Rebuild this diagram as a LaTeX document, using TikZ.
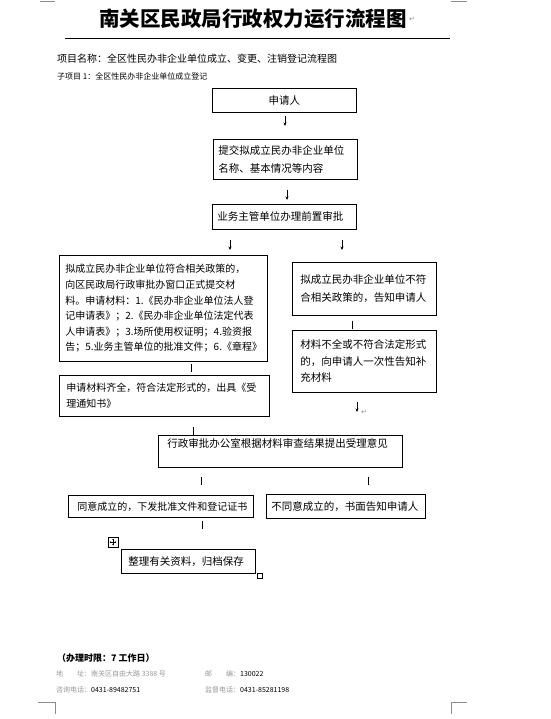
\documentclass[tikz,border=0pt]{standalone}
\usepackage{fontspec}
\setmainfont{Noto Sans CJK SC}
\newfontfamily\symfont{DejaVu Sans}
\usepackage{tikz}
\usetikzlibrary{arrows.meta, positioning}

\begin{document}
\begin{tikzpicture}[
    x=1pt, y=-1pt,
    >={Stealth[length=3.5pt,width=3pt]},
    every node/.style={font=\fontsize{10.5}{18}\selectfont, inner sep=0pt},
    box/.style={draw, line width=0.8pt, anchor=north west, align=left, inner xsep=6pt},
    note/.style={anchor=west, font=\fontsize{10}{12}\selectfont},
    addr/.style={anchor=west, text=black!40, font=\fontsize{7}{9}\selectfont},
    num/.style={text=black},
    corner/.style={draw=black!45, line width=0.6pt},
    parmark/.style={text=black!45, font=\symfont\fontsize{7}{8}\selectfont}
]

\useasboundingbox[fill=white] (0,0) rectangle (550,719);

% Page corners
\draw[corner] (40,1) -- (55,1);
\draw[corner] (451,1) -- (467,1);
\draw[corner] (38,702) -- (55,702) -- (55,714);
\draw[corner] (467,702) -- (451,702) -- (451,714);

% Title
\node[font=\fontsize{20.5}{24}\selectfont\bfseries] (title) at (253,19) {南关区民政局行政权力运行流程图};
\node[parmark, right=2pt of title.east] (titlemark) {↵};
\draw[line width=0.9pt] (65,38) -- (450,38);

% Headings
\node[note] (project) at (57,59) {项目名称：全区性民办非企业单位成立、变更、注销登记流程图};
\node[note, font=\fontsize{8}{10}\selectfont] (subproject) at (57,76) {子项目 1：全区性民办非企业单位成立登记};

% Boxes
\node[box, text width=132pt, minimum height=24pt, align=center] (apply) at (212,88) {申请人};
\node[box, text width=134pt, minimum height=40pt, inner xsep=5pt] (submit) at (213,139)
    {提交拟成立民办非企业单位\\名称、基本情况等内容};
\node[box, text width=134pt, minimum height=25pt, inner xsep=5pt] (approve) at (212,204) {业务主管单位办理前置审批};

\node[box, text width=196pt, minimum height=106pt, font=\fontsize{10}{15.6}\selectfont] (accept) at (59,255)
    {拟成立民办非企业单位符合相关政策的，\\
     向区民政局行政审批办窗口正式提交材\\
     料。申请材料：1.《民办非企业单位法人登\\
     记申请表》；2.《民办非企业单位法定代表\\
     人申请表》；3.场所使用权证明；4.验资报\\
     告；5.业务主管单位的批准文件；6.《章程》};
\node[box, text width=196pt, minimum height=41pt, inner xsep=7pt, font=\fontsize{10}{16.5}\selectfont] (complete) at (59,375)
    {申请材料齐全，符合法定形式的，出具《受\\理通知书》};

\node[box, text width=128pt, minimum height=53pt, inner xsep=8pt] (reject) at (292,262)
    {拟成立民办非企业单位不符\\合相关政策的，告知申请人};
\node[box, text width=128pt, minimum height=62pt, inner xsep=8pt, font=\fontsize{10.5}{16.5}\selectfont] (supply) at (292,330)
    {材料不全或不符合法定形式\\的，向申请人一次性告知补\\充材料};

\node[box, text width=226pt, minimum height=32pt, inner xsep=9pt, font=\fontsize{10.5}{17}\selectfont] (office) at (158,435)
    {行政审批办公室根据材料审查结果提出受理意见\\ \mbox{}};

\node[box, text width=167pt, minimum height=22pt, inner xsep=9pt, font=\fontsize{10}{12}\selectfont] (agree) at (68,495)
    {同意成立的，下发批准文件和登记证书};
\node[box, text width=149pt, minimum height=24pt, inner xsep=5pt] (disagree) at (266,494)
    {不同意成立的，书面告知申请人};
\node[box, text width=120pt, minimum height=24pt, inner xsep=7pt] (archive) at (121,549)
    {整理有关资料，归档保存};

% Table handles
\draw[line width=0.6pt] (108,537) rectangle (118,547);
\draw[<->, >={Stealth[length=1.5pt,width=1.5pt]}, line width=0.4pt] (109.5,542) -- (116.5,542);
\draw[<->, >={Stealth[length=1.5pt,width=1.5pt]}, line width=0.4pt] (113,538.5) -- (113,545.5);
\draw[line width=0.6pt] (257,573) rectangle (262,578);

% Arrows between the boxes
\foreach \n/\x/\y in {a/285/121, b/287/195, c/230/245, d/342/245, e/357/407} {
    \coordinate (top\n) at (\x,\y-5);
    \coordinate (bot\n) at (\x,\y+5);
    \draw[->, line width=0.7pt] (top\n) -- (bot\n);
}
\foreach \n/\x/\y in {f/191/368, g/352/325, h/193/431, i/201/481, j/368/481, k/202/525} {
    \coordinate (top\n) at (\x,\y-4);
    \coordinate (bot\n) at (\x,\y+4);
    \draw[line width=0.7pt] (top\n) -- (bot\n);
}
\node[parmark, right=4pt of bote] (arrowmark) {↵};

% Footer
\node[note, font=\fontsize{9}{11}\selectfont\bfseries] (limit) at (57,658) {（办理时限：7 工作日）};
\node[addr] (address) at (56,674) {地\hspace{2em}址：南关区自由大路 3388 号};
\node[addr] (postcode) at (205,674) {邮\hspace{2em}编：\textcolor{black}{130022}};
\node[addr] (phone) at (56,690) {咨询电话：\textcolor{black}{0431-89482751}};
\node[addr] (super) at (205,690) {监督电话：\textcolor{black}{0431-85281198}};

\end{tikzpicture}
\end{document}
